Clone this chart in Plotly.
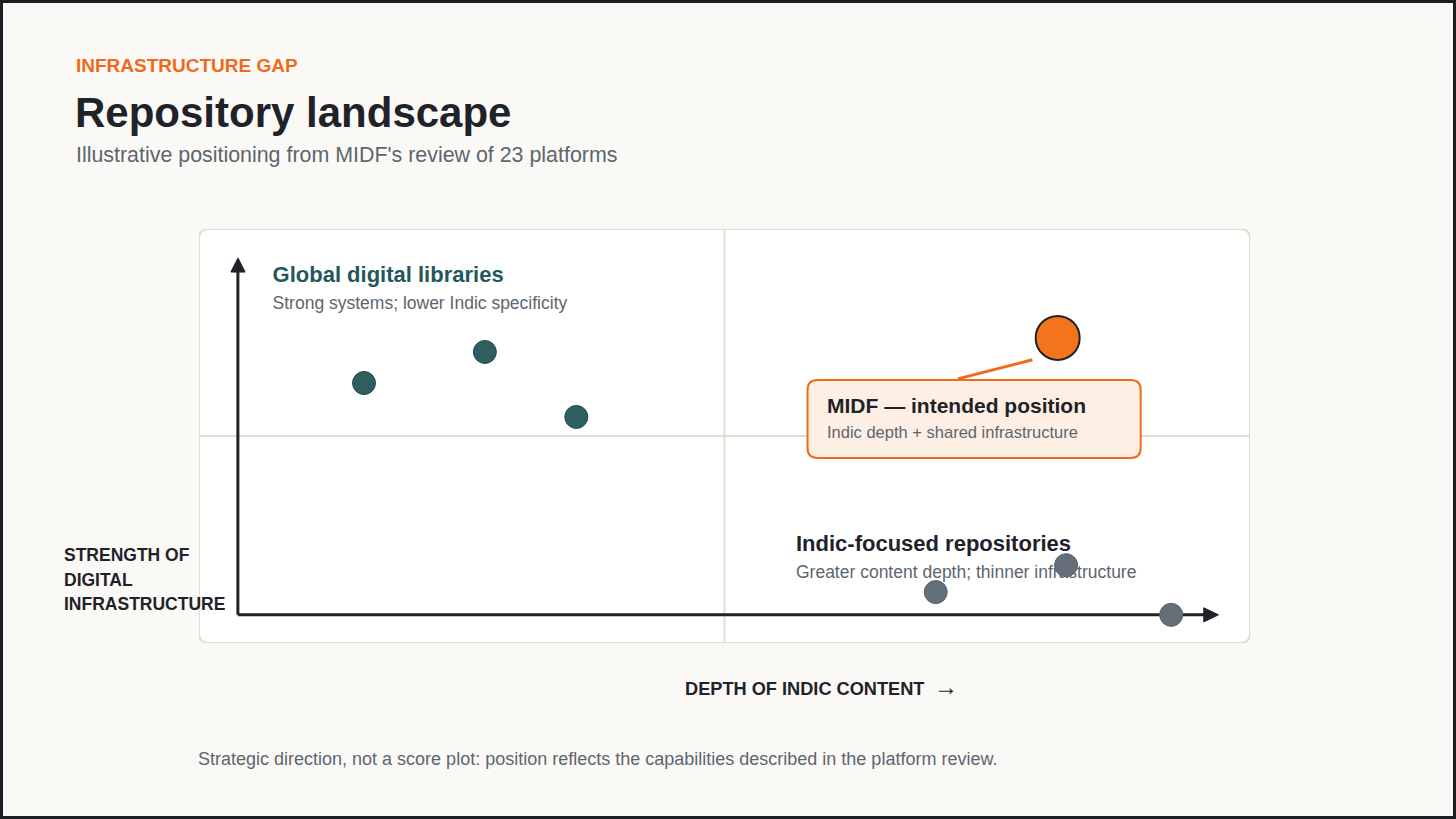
import plotly.graph_objects as go

# data (illustrative positions, 0-100 on both axes)
global_x = [15.7, 27.2, 35.9]
global_y = [62.8, 70.3, 54.6]
indic_x = [70.1, 82.5, 92.5]
indic_y = [12.3, 18.8, 6.8]
midf_x = [81.7]
midf_y = [73.7]

W, H = 1456, 819
L, R, T, B = 199, 206, 229, 176
PW, PH = W - L - R, H - T - B

FONT = "Liberation Sans, Arial, sans-serif"
DARK = "#1F2329"
GREY = "#5B6670"
ORANGE = "#F06A1C"
TEAL = "#24575A"
LINE = "#E2DCD1"


def px(x):
    return (x - L) / PW


def py(y):
    return (H - B - y) / PH


def rounded(x0, y0, x1, y1, rx, ry):
    return (f"M{x0+rx},{y0} L{x1-rx},{y0} Q{x1},{y0} {x1},{y0+ry} "
            f"L{x1},{y1-ry} Q{x1},{y1} {x1-rx},{y1} L{x0+rx},{y1} "
            f"Q{x0},{y1} {x0},{y1-ry} L{x0},{y0+ry} Q{x0},{y0} {x0+rx},{y0} Z")


fig = go.Figure()

# quadrant label texts (as traces so dots can sit over them)
fig.add_trace(go.Scatter(x=[7.0], y=[88.5], mode="text", text=["<b>Global digital libraries</b>"],
                         textposition="middle right", textfont=dict(size=22, color=TEAL, family=FONT),
                         hoverinfo="skip", cliponaxis=False))
fig.add_trace(go.Scatter(x=[7.0], y=[81.7], mode="text", text=["Strong systems; lower Indic specificity"],
                         textposition="middle right", textfont=dict(size=17.5, color=GREY, family=FONT),
                         hoverinfo="skip", cliponaxis=False))
fig.add_trace(go.Scatter(x=[56.8], y=[23.5], mode="text", text=["<b>Indic-focused repositories</b>"],
                         textposition="middle right", textfont=dict(size=22, color=DARK, family=FONT),
                         hoverinfo="skip", cliponaxis=False))
fig.add_trace(go.Scatter(x=[56.8], y=[16.7], mode="text", text=["Greater content depth; thinner infrastructure"],
                         textposition="middle right", textfont=dict(size=17.5, color=GREY, family=FONT),
                         hoverinfo="skip", cliponaxis=False))

fig.add_trace(go.Scatter(x=global_x, y=global_y, mode="markers", cliponaxis=False,
                         marker=dict(size=23, color="#2E5E5F", line=dict(color="#234a4b", width=1))))
fig.add_trace(go.Scatter(x=indic_x, y=indic_y, mode="markers", cliponaxis=False,
                         marker=dict(size=23, color="#646F79", line=dict(color="#56606a", width=1))))
fig.add_trace(go.Scatter(x=midf_x, y=midf_y, mode="markers", cliponaxis=False,
                         marker=dict(size=44, color="#F2741B", line=dict(color=DARK, width=2))))

shapes = [
    # outer frame
    dict(type="rect", xref="paper", yref="paper", x0=px(1.5), x1=px(1454.5), y0=py(1.5), y1=py(817.5),
         line=dict(color="#1B1E22", width=3), fillcolor="rgba(0,0,0,0)", layer="above"),
    # panel
    dict(type="path", xref="x", yref="y", path=rounded(0, 0, 100, 100, 0.95, 2.4),
         fillcolor="white", line=dict(color=LINE, width=2), layer="below"),
    dict(type="line", xref="x", yref="y", x0=50, x1=50, y0=0, y1=100, line=dict(color=LINE, width=2), layer="below"),
    dict(type="line", xref="x", yref="y", x0=0, x1=100, y0=50, y1=50, line=dict(color=LINE, width=2), layer="below"),
    # axes arrows
    dict(type="line", xref="x", yref="y", x0=3.7, x1=3.7, y0=6.8, y1=90, line=dict(color=DARK, width=3), layer="below"),
    dict(type="line", xref="x", yref="y", x0=3.7, x1=96, y0=6.8, y1=6.8, line=dict(color=DARK, width=3), layer="below"),
    dict(type="path", xref="x", yref="y", path="M3.03,89.6 L4.39,89.6 L3.71,93.0 Z",
         fillcolor=DARK, line=dict(color=DARK, width=1), layer="below"),
    dict(type="path", xref="x", yref="y", path="M95.6,5.1 L95.6,8.5 L97.0,6.8 Z",
         fillcolor=DARK, line=dict(color=DARK, width=1), layer="below"),
    # callout
    dict(type="line", xref="x", yref="y", x0=72.2, y0=63.8, x1=79.3, y1=68.4,
         line=dict(color=ORANGE, width=3), layer="below"),
    dict(type="path", xref="x", yref="y", path=rounded(57.9, 44.7, 89.6, 63.5, 0.95, 2.4),
         fillcolor="#FDEFE4", line=dict(color=ORANGE, width=2), layer="below"),
]

ann = []


def text(x, y, s, size, color, bold=False, family=FONT):
    ann.append(dict(xref="paper", yref="paper", x=px(x), y=py(y), text=f"<b>{s}</b>" if bold else s,
                    showarrow=False, xanchor="left", yanchor="middle", align="left",
                    font=dict(size=size, color=color, family=family)))


text(74, 65, "INFRASTRUCTURE GAP", 19, ORANGE, True)
text(73, 112, "Repository landscape", 42, DARK, True)
text(74, 155, "Illustrative positioning from MIDF's review of 23 platforms", 21.4, GREY)
text(825, 405, "MIDF — intended position", 21, DARK, True)
text(825, 432, "Indic depth + shared infrastructure", 16.5, GREY)
for i, s in enumerate(["STRENGTH OF", "DIGITAL", "INFRASTRUCTURE"]):
    text(62, 555 + i * 24.5, s, 17.5, DARK, True)
text(683, 689, "DEPTH OF INDIC CONTENT", 18.2, DARK, True)
text(932, 686, "→", 24, DARK)
text(196, 759, "Strategic direction, not a score plot: position reflects the capabilities described in the platform review.",
     18, GREY)

fig.update_layout(
    width=W, height=H,
    margin=dict(l=L, r=R, t=T, b=B, pad=0),
    paper_bgcolor="#FBF9F6", plot_bgcolor="rgba(0,0,0,0)",
    showlegend=False,
    shapes=shapes, annotations=ann,
    xaxis=dict(range=[0, 100], visible=False, fixedrange=True),
    yaxis=dict(range=[0, 100], visible=False, fixedrange=True),
)

fig.write_html("out.html", config={"displayModeBar": False},
               post_script="document.body.style.margin='0';document.body.style.overflow='hidden';")
